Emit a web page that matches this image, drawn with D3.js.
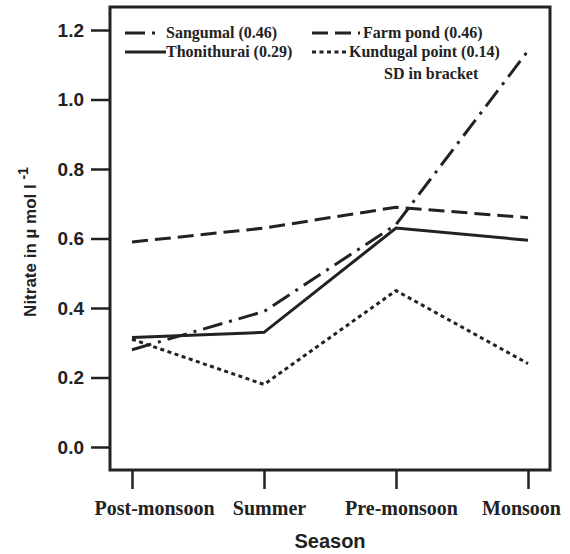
<!DOCTYPE html>
<html>
<head>
<meta charset="utf-8">
<script src="https://cdn.jsdelivr.net/npm/d3@7"></script>
<style>
  body { margin: 0; background: #fff; }
  svg { display: block; }
</style>
</head>
<body>
<div id="chart"></div>
<script>
// seasons on the x axis
const seasons = ["Post-monsoon", "Summer", "Pre-monsoon", "Monsoon"];

// nitrate values per station (µmol/l)
const sangumal = [0.28, 0.39, 0.64, 1.14];
const farmPond = [0.59, 0.63, 0.69, 0.66];
const thonithurai = [0.315, 0.33, 0.63, 0.595];
const kundugal = [0.31, 0.18, 0.45, 0.24];

const yTicks = [0, 0.2, 0.4, 0.6, 0.8, 1.0, 1.2];

const series = [
  { name: "Sangumal (0.46)", values: sangumal, dash: "20,7,3,7" },
  { name: "Farm pond (0.46)", values: farmPond, dash: "16,7" },
  { name: "Thonithurai (0.29)", values: thonithurai, dash: null },
  { name: "Kundugal point (0.14)", values: kundugal, dash: "4,3.5" },
];

const width = 570;
const height = 554;
const frame = { left: 110, right: 550, top: 7, bottom: 470 };
const sans = "'Liberation Sans', Arial, sans-serif";
const serif = "'Liberation Serif', 'Times New Roman', serif";

// season labels in the original are not quite centred on their ticks
const labelNudge = [22, 5, 5, -7];

const svg = d3
  .select("#chart")
  .append("svg")
  .attr("width", width)
  .attr("height", height);

const x = d3
  .scalePoint()
  .domain(seasons)
  .range([132, 528]);

const y = d3.scaleLinear().domain([0, 1.2]).range([447, 30]);

// plot frame
svg
  .append("rect")
  .attr("x", frame.left)
  .attr("y", frame.top)
  .attr("width", frame.right - frame.left)
  .attr("height", frame.bottom - frame.top)
  .attr("fill", "none")
  .attr("stroke", "#222")
  .attr("stroke-width", 3);

// y axis
const yAxis = svg
  .append("g")
  .attr("transform", `translate(${frame.left},0)`)
  .call(
    d3
      .axisLeft(y)
      .tickValues(yTicks)
      .tickFormat(d3.format(".1f"))
      .tickSize(19)
      .tickPadding(7),
  );
yAxis.select(".domain").remove();
yAxis.selectAll(".tick line").attr("stroke", "#222").attr("stroke-width", 2.5);
yAxis
  .selectAll(".tick text")
  .attr("fill", "#222")
  .style("font-family", sans)
  .style("font-weight", "bold")
  .style("font-size", "19px");

// x axis
const xAxis = svg
  .append("g")
  .attr("transform", `translate(0,${frame.bottom})`)
  .call(d3.axisBottom(x).tickSize(19).tickPadding(8));
xAxis.select(".domain").remove();
xAxis.selectAll(".tick line").attr("stroke", "#222").attr("stroke-width", 2.5);
xAxis
  .selectAll(".tick text")
  .attr("fill", "#222")
  .attr("dy", "0.9em")
  .attr("dx", (d, i) => labelNudge[i])
  .style("font-family", serif)
  .style("font-weight", "bold")
  .style("font-size", "20px");

// axis titles
svg
  .append("text")
  .attr("x", 330)
  .attr("y", 548)
  .attr("text-anchor", "middle")
  .attr("fill", "#222")
  .style("font-family", sans)
  .style("font-weight", "bold")
  .style("font-size", "20px")
  .text("Season");

const yTitle = svg
  .append("text")
  .attr("transform", "translate(36,242) rotate(-90)")
  .attr("text-anchor", "middle")
  .attr("fill", "#222")
  .style("font-family", sans)
  .style("font-weight", "bold")
  .style("font-size", "17px");
yTitle.append("tspan").text("Nitrate in µ mol l ");
yTitle
  .append("tspan")
  .attr("dy", -8)
  .style("font-size", "14px")
  .text("-1");

// lines
const line = d3
  .line()
  .x((d, i) => x(seasons[i]))
  .y((d) => y(d));

svg
  .selectAll(".series")
  .data(series)
  .enter()
  .append("path")
  .attr("class", "series")
  .attr("d", (d) => line(d.values))
  .attr("fill", "none")
  .attr("stroke", "#222")
  .attr("stroke-width", 3)
  .attr("stroke-dasharray", (d) => d.dash);

// legend
const legendItems = [
  { s: series[0], x1: 125, x2: 162, tx: 166, ty: 38 },
  { s: series[1], x1: 312, x2: 360, tx: 363, ty: 38 },
  { s: series[2], x1: 125, x2: 166, tx: 166, ty: 57 },
  { s: series[3], x1: 312, x2: 346, tx: 349, ty: 57 },
];

const legend = svg.append("g").attr("class", "legend");
legendItems.forEach((item) => {
  legend
    .append("line")
    .attr("x1", item.x1)
    .attr("x2", item.x2)
    .attr("y1", item.ty - 5)
    .attr("y2", item.ty - 5)
    .attr("stroke", "#222")
    .attr("stroke-width", 3)
    .attr("stroke-dasharray", item.s.dash);
  legend
    .append("text")
    .attr("x", item.tx)
    .attr("y", item.ty)
    .attr("fill", "#222")
    .style("font-family", serif)
    .style("font-weight", "bold")
    .style("font-size", "16px")
    .text(item.s.name);
});

legend
  .append("text")
  .attr("x", 384)
  .attr("y", 79)
  .attr("fill", "#222")
  .style("font-family", serif)
  .style("font-weight", "bold")
  .style("font-size", "16px")
  .text("SD in bracket");
</script>
</body>
</html>
